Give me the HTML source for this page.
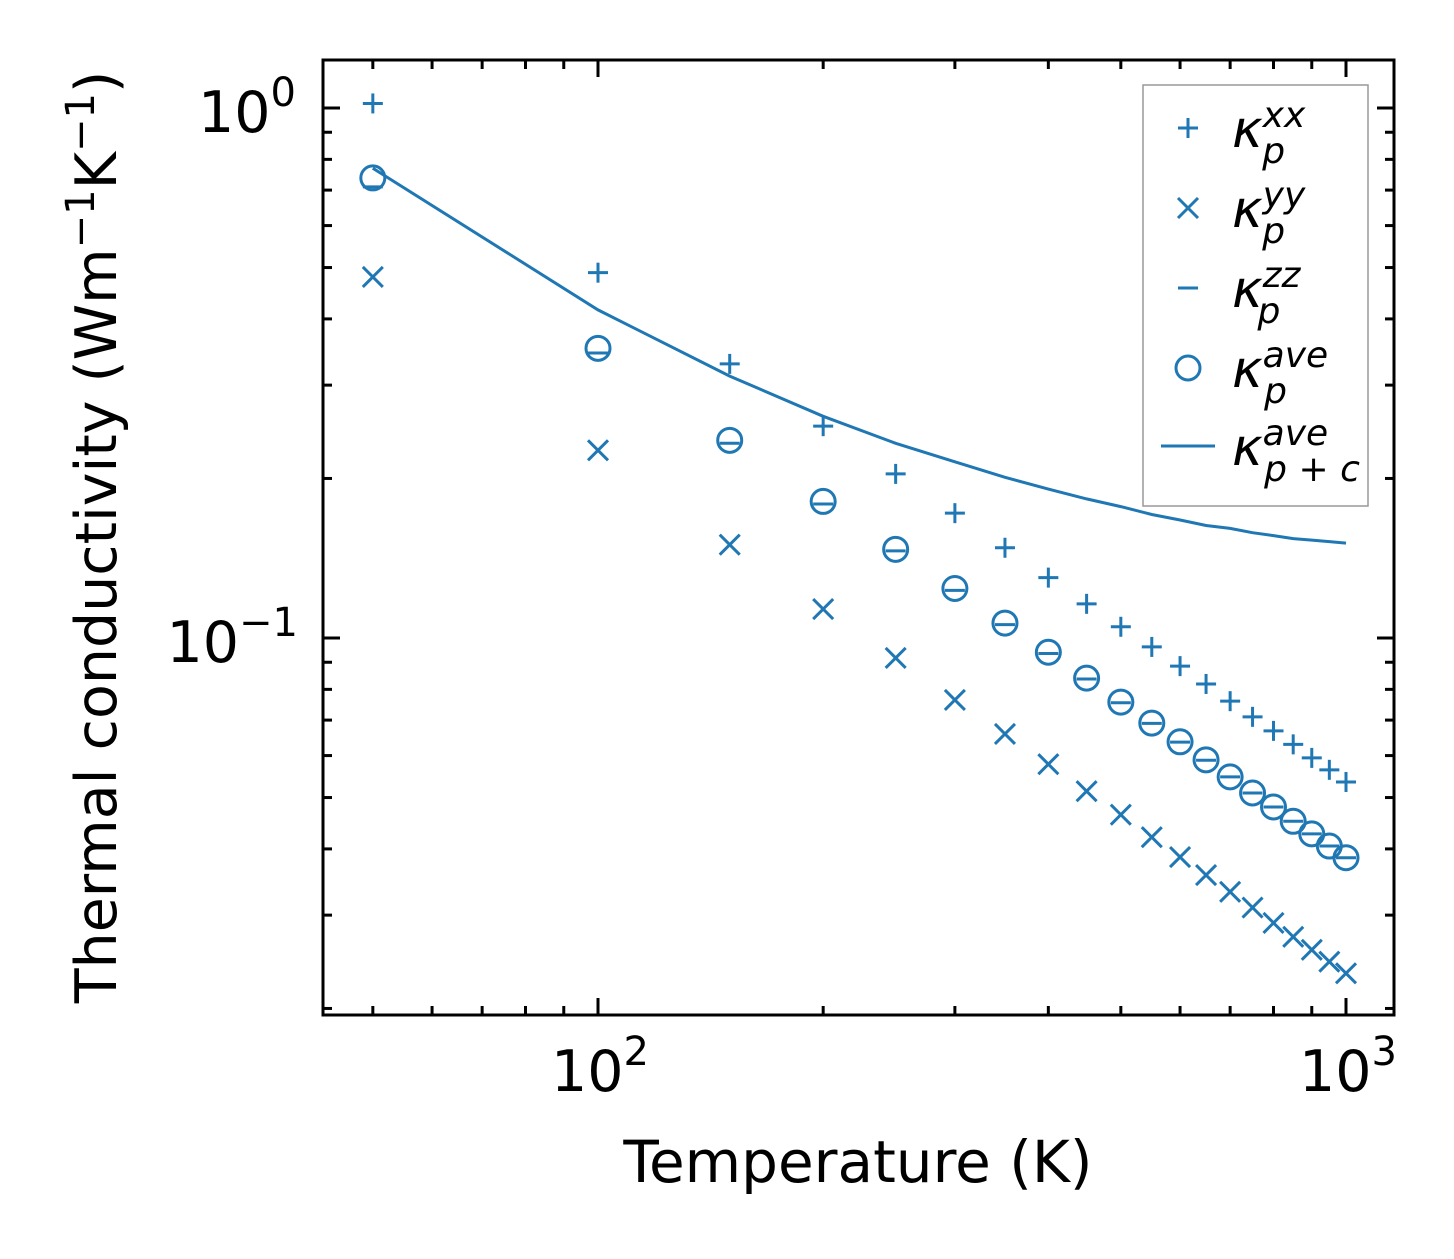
<!DOCTYPE html>
<html><head><meta charset="utf-8"><style>
html,body{margin:0;padding:0;background:#fff;}
svg text{font-family:"DejaVu Sans","Liberation Sans",sans-serif;fill:#000;}
</style></head><body>
<svg id="chart" width="1454" height="1254" viewBox="0 0 1454 1254" xmlns="http://www.w3.org/2000/svg">
<rect x="0" y="0" width="1454" height="1254" fill="#fff"/>
<g id="marks"></g>
<g id="ticks"></g>
<rect x="323" y="60" width="1071" height="955" fill="none" stroke="#000" stroke-width="3"/>
<text x="296" y="132" font-size="57" text-anchor="end">10<tspan dy="-26" font-size="40">0</tspan></text>
<text x="298" y="662" font-size="57" text-anchor="end">10<tspan dy="-26" font-size="40">−1</tspan></text>
<text x="600" y="1091" font-size="57" text-anchor="middle">10<tspan dy="-26" font-size="40">2</tspan></text>
<text x="1348" y="1091" font-size="57" text-anchor="middle">10<tspan dy="-26" font-size="40">3</tspan></text>
<text x="858" y="1182" font-size="58" text-anchor="middle">Temperature (K)</text>
<text transform="translate(116,537) rotate(-90)" font-size="57" text-anchor="middle">Thermal conductivity (Wm<tspan dy="-22" font-size="40">−1</tspan><tspan dy="22">K</tspan><tspan dy="-22" font-size="40">−1</tspan><tspan dy="22">)</tspan></text>
<g>
<rect x="1143" y="85" width="225" height="421" fill="#fff" fill-opacity="0.8" stroke="#999" stroke-width="1.5"/>
<g id="legend-items"></g>
</g>
</svg>
<script>
const temps = [50,100,150,200,250,300,350,400,450,500,550,600,650,700,750,800,850,900,950,1000];
const kxx = [1.02,0.489,0.329,0.251,0.204,0.172,0.148,0.130,0.116,0.105,0.0962,0.0885,0.0819,0.076,0.071,0.0668,0.063,0.0594,0.0564,0.0535];
const kyy = [0.48,0.226,0.150,0.1134,0.0917,0.0764,0.0659,0.0578,0.0514,0.0464,0.0421,0.0386,0.0357,0.0332,0.031,0.029,0.0273,0.0258,0.0245,0.0233];
const kzz = [0.71,0.345,0.233,0.179,0.146,0.123,0.106,0.0935,0.0837,0.0755,0.069,0.0636,0.0588,0.0547,0.051,0.048,0.0451,0.0427,0.0405,0.0385];
const kave = [0.738,0.352,0.236,0.181,0.147,0.124,0.1067,0.094,0.084,0.0757,0.0691,0.0637,0.0589,0.0547,0.051,0.048,0.0451,0.0427,0.0405,0.0385];
const kpc = [0.77,0.416,0.312,0.262,0.233,0.215,0.201,0.191,0.183,0.177,0.171,0.167,0.163,0.161,0.158,0.156,0.154,0.153,0.152,0.151];
const xMajor = [100,1000];
const yMajor = [1,0.1];

const C = '#1f77b4';
const NS = 'http://www.w3.org/2000/svg';
function xs(v){ return 598 + 748*(Math.log10(v)-2); }
function ys(v){ return 108 - 530*Math.log10(v); }
function mk(tag, attrs, parent){
  const e = document.createElementNS(NS, tag);
  for (const k in attrs) e.setAttribute(k, attrs[k]);
  parent.appendChild(e); return e;
}
const marks = document.getElementById('marks');
const ticks = document.getElementById('ticks');

let d = temps.map((t,i)=>(i?'L':'M')+xs(t).toFixed(1)+' '+ys(kpc[i]).toFixed(1)).join(' ');
const line = mk('path',{d:d,fill:'none',stroke:C,'stroke-width':3},marks);



function plus(x,y,s,p,name){
  const g = mk('g',{stroke:C,'stroke-width':3},p);
  
  
  mk('line',{x1:x-s,y1:y,x2:x+s,y2:y},g); mk('line',{x1:x,y1:y-s,x2:x,y2:y+s},g);
}
function cross(x,y,s,p,name){
  const g = mk('g',{stroke:C,'stroke-width':3},p);
  
  
  mk('line',{x1:x-s,y1:y-s,x2:x+s,y2:y+s},g); mk('line',{x1:x-s,y1:y+s,x2:x+s,y2:y-s},g);
}
function dash(x,y,s,p,name){
  const e = mk('line',{x1:x-s,y1:y,x2:x+s,y2:y,stroke:C,'stroke-width':3},p);
  
  
}
function circ(x,y,r,p,name){
  const e = mk('circle',{cx:x,cy:y,r:r,fill:'none',stroke:C,'stroke-width':3},p);
  
  
}
temps.forEach((t,i)=>{
  const x = xs(t);
  plus(x, ys(kxx[i]), 10, marks, 'kappa-xx-point');
  cross(x, ys(kyy[i]), 10, marks, 'kappa-yy-point');
  dash(x, ys(kzz[i]), 10, marks, 'kappa-zz-point');
  circ(x, ys(kave[i]), 12, marks, 'kappa-ave-point');
});

function tk(x1,y1,x2,y2,name){
  const e = mk('line',{x1:x1,y1:y1,x2:x2,y2:y2,stroke:'#000','stroke-width':3},ticks);
  
  
}
for (let dec=10; dec<=1000; dec*=10){
  for (let m=1;m<10;m++){
    const v = dec*m; const x = xs(v);
    if (x<325||x>1392) continue;
    const L = m===1?17:9;
    tk(x,1015,x,1015-L,'x-tick'); tk(x,60,x,60+L,'x-tick-top');
  }
}
for (let dec=0.01; dec<=1.01; dec*=10){
  for (let m=1;m<10;m++){
    const v = dec*m; const y = ys(v);
    if (y<62||y>1013) continue;
    const L = m===1?17:9;
    tk(323,y,323+L,y,'y-tick'); tk(1394,y,1394-L,y,'y-tick-right');
  }
}

const lg = document.getElementById('legend-items');
const lx = 1188;
plus(lx,128,10,lg,'legend-kappa-xx-marker');
cross(lx,208,10,lg,'legend-kappa-yy-marker');
dash(lx,288,10,lg,'legend-kappa-zz-marker');
circ(lx,368,12,lg,'legend-kappa-ave-marker');
const ll = mk('line',{x1:1161,y1:446,x2:1215,y2:446,stroke:C,'stroke-width':3},lg);


const labs = [['xx','p',147],['yy','p',227],['zz','p',307],['ave','p',387],['ave','p + c',465]];
labs.forEach(l=>{
  const t = mk('text',{x:1232,y:l[2],'font-size':52,'font-style':'italic'},lg);
  
  
  t.innerHTML = 'κ<tspan dy="-20" font-size="36">'+l[0]+'</tspan><tspan dy="36" dx="-'+(l[0].length*21+1)+'" font-size="36">'+l[1]+'</tspan>';
});
</script>
</body></html>
